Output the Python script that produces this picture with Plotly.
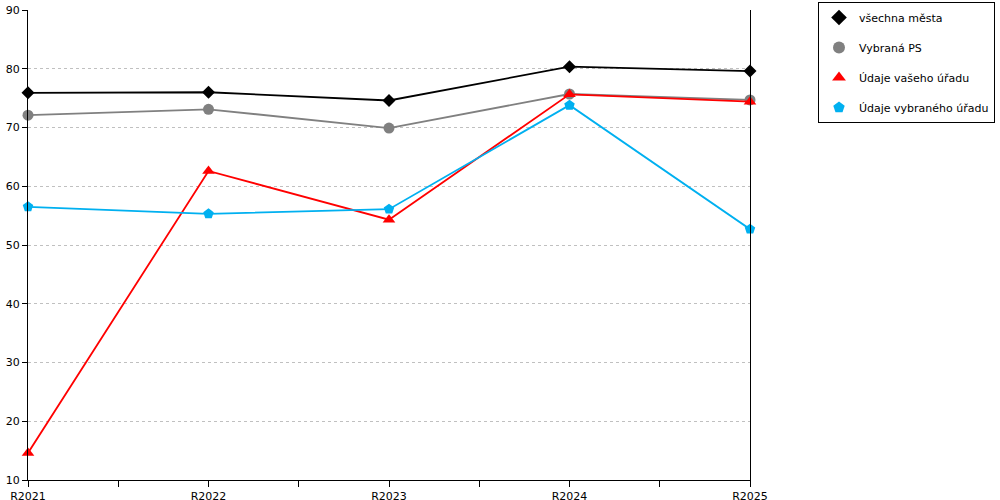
import plotly.graph_objects as go

categories = ["R2021", "R2022", "R2023", "R2024", "R2025"]
vsechna_mesta = [75.9, 76.0, 74.6, 80.35, 79.6]
vybrana_ps = [72.1, 73.1, 69.9, 75.7, 74.7]
udaje_vaseho = [14.6, 62.6, 54.3, 75.65, 74.4]
udaje_vybraneho = [56.5, 55.3, 56.1, 73.8, 52.7]

series = [
    ("všechna města", vsechna_mesta, "#000000", "diamond", 10),
    ("Vybraná PS", vybrana_ps, "#808080", "circle", 11),
    ("Údaje vašeho úřadu", udaje_vaseho, "#ff0000", "triangle-up", 11),
    ("Údaje vybraného úřadu", udaje_vybraneho, "#00b0f0", "pentagon", 11),
]

xs = list(range(len(categories)))
fig = go.Figure()
for name, vals, color, sym, size in series:
    fig.add_trace(go.Scatter(
        x=xs, y=vals, mode="lines+markers", name=name, showlegend=False,
        line=dict(color=color, width=1.8),
        marker=dict(symbol=sym, size=size, color=color),
        cliponaxis=False,
    ))
for i, (name, vals, color, sym, size) in enumerate(series):
    fig.add_trace(go.Scatter(
        x=[None], y=[None], mode="markers", name=name, legendgroup=f"g{i}",
        marker=dict(symbol=sym, size=size, color=color),
    ))

fig.update_layout(
    width=1000, height=500,
    margin=dict(l=28, r=250, t=10, b=20, autoexpand=False),
    paper_bgcolor="white", plot_bgcolor="white",
    font=dict(family="DejaVu Sans", size=11, color="#000000"),
    legend=dict(
        xref="container", yref="container", x=0.995, y=0.996,
        xanchor="right", yanchor="top",
        bordercolor="#000000", borderwidth=1,
        font=dict(size=11), tracegroupgap=11,
        itemsizing="constant", itemwidth=30,
    ),
)
fig.update_xaxes(
    range=[0, len(categories) - 1], tickvals=xs, ticktext=categories,
    showgrid=False, zeroline=False, automargin=False,
    showline=True, linecolor="#000000", linewidth=1,
    ticks="outside", ticklen=6, tickcolor="#000000",
    minor=dict(dtick=0.5, tick0=0, ticks="outside", ticklen=6, tickcolor="#000000"),
)
fig.update_yaxes(
    range=[10, 90], dtick=10, tick0=10, automargin=False,
    showgrid=True, gridcolor="#c0c0c0", griddash="dot", gridwidth=1,
    zeroline=False, showline=True, linecolor="#000000", linewidth=1,
    mirror=True, ticks="outside", ticklen=5, tickcolor="#000000",
)
fig.write_html(
    "out.html",
    config={"displayModeBar": False},
    post_script="document.body.style.margin='0';document.body.style.padding='0';",
)
